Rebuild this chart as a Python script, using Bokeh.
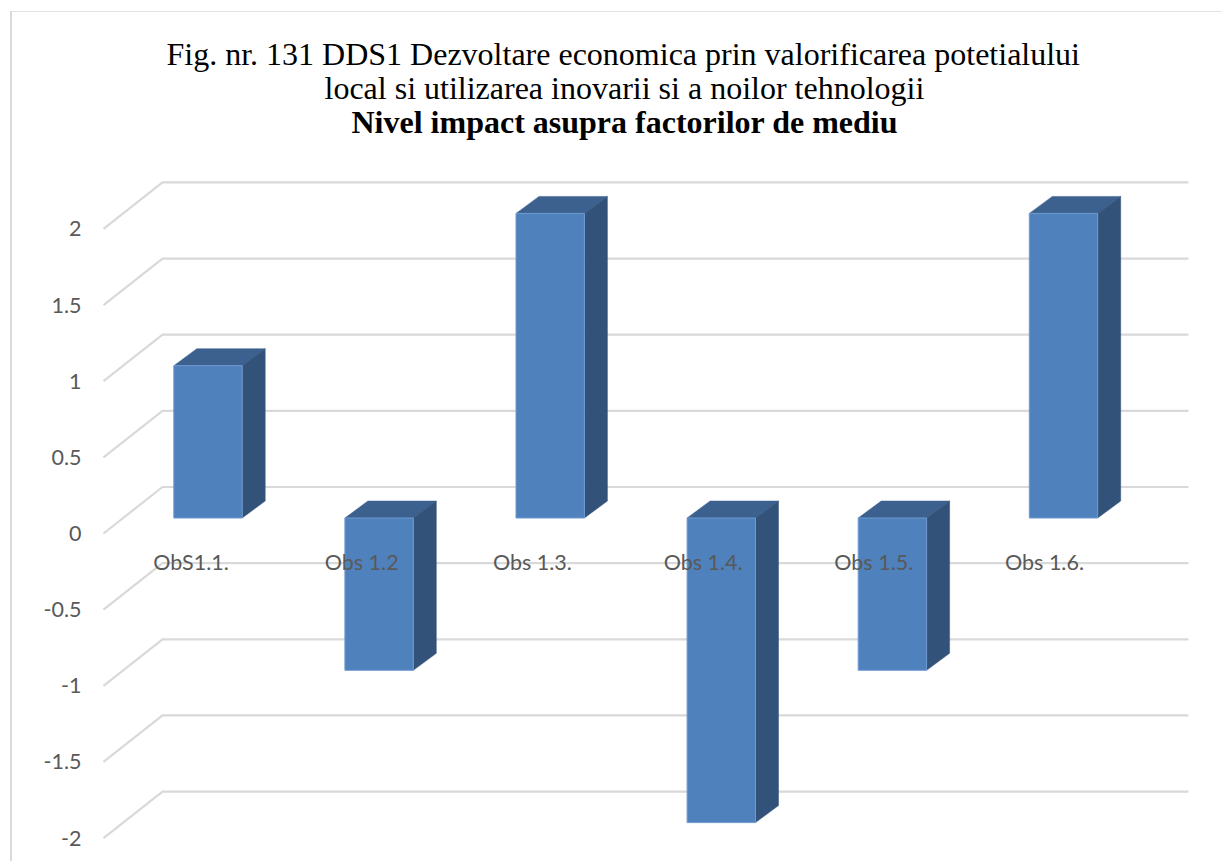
from bokeh.plotting import figure
from bokeh.models import Range1d, FixedTicker, Title
from bokeh.embed import file_html
from bokeh.resources import INLINE
import numpy as np

categories = ["ObS1.1.", "Obs 1.2", "Obs 1.3.", "Obs 1.4.", "Obs 1.5.", "Obs 1.6."]
values = [1, -1, 2, -2, -1, 2]
y_ticks = [2, 1.5, 1, 0.5, 0, -0.5, -1, -1.5, -2]
y_labels = ["2", "1.5", "1", "0.5", "0", "-0.5", "-1", "-1.5", "-2"]
title_lines = [
    "Fig. nr. 131 DDS1 Dezvoltare economica prin valorificarea potetialului",
    "local si utilizarea inovarii si a noilor tehnologii",
    "Nivel impact asupra factorilor de mediu",
]
title_styles = ["normal", "normal", "bold"]
title_left = [166, 324, 351]

FONT = "Lato"
SERIF = "Liberation Serif"
TEXT_C = "#595959"
GRID_C = "#D9D9D9"
FRONT_C = "#4F81BD"
TOP_C = "#3C618F"
SIDE_C = "#325279"

# scale: px per unit on each axis
PX_X = 170.7
PX_Y = 152.3
TOP_GAP = 35                # clear space above the title block
TITLE_H = 100               # height taken by the three title lines
FRAME_L, FRAME_T = 90, TOP_GAP + TITLE_H
FRAME_W, FRAME_H = 1222 - FRAME_L, 861 - FRAME_T
LABEL_X0 = 190.5   # px of first category label
ZERO_Y = 531       # px of the 0 tick

x_start = (FRAME_L - LABEL_X0) / PX_X
y_end = (ZERO_Y - FRAME_T) / PX_Y

p = figure(
    width=1222, height=861 - TOP_GAP,
    frame_width=FRAME_W, frame_height=FRAME_H,
    x_range=Range1d(x_start, x_start + FRAME_W / PX_X),
    y_range=Range1d(y_end - FRAME_H / PX_Y, y_end),
    output_backend="svg", toolbar_location=None,
    min_border_left=FRAME_L, min_border_right=0, min_border_bottom=0, min_border_top=0,
    outline_line_color=None,
    margin=(TOP_GAP, 0, 0, 0),
)
p.grid.visible = False

# chart-area border, drawn by the page around the canvas
p.stylesheets = [f""":host::before {{
  content: ""; position: absolute; left: 10px; top: {11 - TOP_GAP}px; right: 0; bottom: 0;
  border-left: 2px solid #D9D9D9; border-top: 1.5px solid #E2E2E2;
  pointer-events: none; z-index: 5;
}}"""]

# depth offsets, in axis units
bar_cx = (207.5 - LABEL_X0) / PX_X
bar_hw = 34.2 / PX_X
bar_spread = 171.1 / PX_X   # bars sit slightly wider apart than the labels
bar_dx = 23 / PX_X
bar_dy = 17 / PX_Y
bar_base = 15.5 / PX_Y
grid_x0 = (103 - LABEL_X0) / PX_X
grid_x1 = (162 - LABEL_X0) / PX_X
grid_x2 = (1188 - LABEL_X0) / PX_X
grid_dy = 46.5 / PX_Y

# gridlines
yt = np.array(y_ticks, dtype=float)
p.multi_line(
    xs=[[grid_x0, grid_x1, grid_x2] for _ in yt],
    ys=[[v, v + grid_dy, v + grid_dy] for v in yt],
    line_color=GRID_C, line_width=2.2,
)

# 3D bars
v = np.array(values, dtype=float)
idx = np.arange(len(v), dtype=float) * bar_spread
x0 = idx + bar_cx - bar_hw
x1 = idx + bar_cx + bar_hw
hi = np.maximum(v, 0) + bar_base
lo = np.minimum(v, 0) + bar_base

p.patches(
    xs=[[a, b, b + bar_dx, a + bar_dx] for a, b in zip(x0, x1)],
    ys=[[t, t, t + bar_dy, t + bar_dy] for t in hi],
    fill_color=TOP_C, line_color=TOP_C, line_width=0.5,
)
p.patches(
    xs=[[b, b + bar_dx, b + bar_dx, b] for b in x1],
    ys=[[t, t + bar_dy, u + bar_dy, u] for t, u in zip(hi, lo)],
    fill_color=SIDE_C, line_color=SIDE_C, line_width=0.5,
)
p.quad(left=x0, right=x1, top=hi, bottom=lo, fill_color=FRONT_C, line_color="#6F9AD0", line_width=1)

# axes
ax = p.xaxis[0]
ax.ticker = FixedTicker(ticks=list(range(len(categories))))
ax.major_label_overrides = {i: c for i, c in enumerate(categories)}
ax.fixed_location = 0
ax.axis_line_color = None
ax.major_tick_line_color = None
ax.minor_tick_line_color = None
ax.major_label_standoff = 9
ax.major_label_text_font = FONT
ax.major_label_text_font_size = "21.5px"
ax.major_label_text_color = TEXT_C
ax.level = "overlay"

ay = p.yaxis[0]
ay.ticker = FixedTicker(ticks=y_ticks)
ay.major_label_overrides = dict(zip(y_ticks, y_labels))
ay.axis_line_color = None
ay.major_tick_line_color = None
ay.minor_tick_line_color = None
ay.major_label_standoff = 3
ay.major_label_text_font = FONT
ay.major_label_text_font_size = "21.5px"
ay.major_label_text_color = TEXT_C

# title lines: the panel stacks later additions above earlier ones
for text, style, left in reversed(list(zip(title_lines, title_styles, title_left))):
    t = Title(text=text, align="left", text_font=SERIF, text_font_size="32px",
              text_font_style=style, text_color="#000000", offset=left - FRAME_L, standoff=-4)
    p.add_layout(t, "above")

open("out.html", "w").write(file_html(p, INLINE))
